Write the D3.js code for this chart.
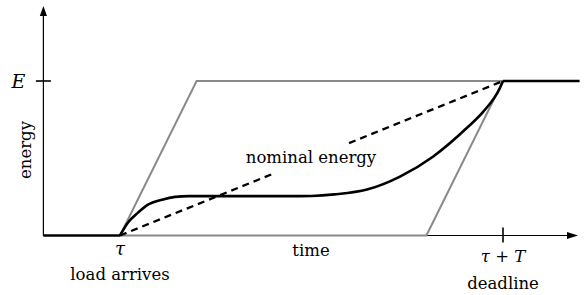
<!DOCTYPE html>
<html>
<head>
<meta charset="utf-8">
<script src="https://cdn.jsdelivr.net/npm/d3@7"></script>
<style>
  body { margin: 0; background: #fff; }
  text { font-family: "DejaVu Serif", serif; font-size: 16.5px; fill: #000; }
  .it { font-style: italic; }
</style>
</head>
<body>
<div id="chart"></div>
<script>
// time is measured from tau (0) to tau + T (1), energy from 0 to E (1)
const actualT = [0, 0.021, 0.047, 0.073, 0.110, 0.144, 0.18, 0.33, 0.47, 0.5, 0.56, 0.645, 0.731, 0.817, 0.906, 0.948, 0.992, 1];
const actualE = [0, 0.084, 0.148, 0.2, 0.232, 0.250, 0.255, 0.255, 0.255, 0.256, 0.266, 0.297, 0.381, 0.51, 0.697, 0.8, 0.955, 1];
const upperT = [0, 0.2, 1], upperE = [0, 1, 1];
const lowerT = [0, 0.8, 1], lowerE = [0, 0, 1];
const nominalT = [0, 1], nominalE = [0, 1];
const nominalGap = [0.397, 0.598];
const timeTicks = [0, 1];
const energyTicks = [1];

let width = 585, height = 295;
let svg = d3.select("#chart").append("svg")
  .attr("width", width)
  .attr("height", height)

let x = d3.scaleLinear().domain([-0.2, 1.2]).range([43.4, 579.6]);
let y = d3.scaleLinear().domain([0, 1]).range([235.5, 81]);
let y0 = y(0), xa = x(-0.2);

let line = d3.line().x(d => x(d[0])).y(d => y(d[1]));
let smooth = d3.line().x(d => x(d[0])).y(d => y(d[1])).curve(d3.curveMonotoneX);

// axes
svg.append("line").attr("x1", xa).attr("x2", 570).attr("y1", y0).attr("y2", y0)
  .attr("stroke", "#000").attr("stroke-width", 1.2);
svg.append("line").attr("x1", xa).attr("x2", xa).attr("y1", y0).attr("y2", 14)
  .attr("stroke", "#000").attr("stroke-width", 1.2);
svg.append("path").attr("d", `M578,${y0}L567,${y0 - 3.6}L567,${y0 + 3.6}Z`).attr("fill", "#000");
svg.append("path").attr("d", `M${xa},6L${xa - 3.6},16L${xa + 3.6},16Z`).attr("fill", "#000");

// ticks
energyTicks.forEach(e => {
  svg.append("line").attr("x1", xa - 7.5).attr("x2", xa + 7.5).attr("y1", y(e)).attr("y2", y(e))
    .attr("stroke", "#000").attr("stroke-width", 1.6);
});
svg.append("line").attr("x1", x(timeTicks[1])).attr("x2", x(timeTicks[1]))
  .attr("y1", y0 - 8).attr("y2", y0 + 7).attr("stroke", "#000").attr("stroke-width", 1.6);

// gray envelope
svg.append("path").datum(d3.zip(upperT, upperE)).attr("d", line)
  .attr("fill", "none").attr("stroke", "#8a8a8a").attr("stroke-width", 2);
svg.append("path").datum(d3.zip(lowerT, lowerE)).attr("d", line)
  .attr("fill", "none").attr("stroke", "#8a8a8a").attr("stroke-width", 2);

// nominal energy (dashed, broken around its label)
let nomAt = t => [t, nominalE[0] + (nominalE[1] - nominalE[0]) * (t - nominalT[0]) / (nominalT[1] - nominalT[0])];
[[nominalT[0], nominalGap[0]], [nominalGap[1], nominalT[1]]].forEach(seg => {
  svg.append("path").datum([nomAt(seg[0]), nomAt(seg[1])]).attr("d", line)
    .attr("fill", "none").attr("stroke", "#000").attr("stroke-width", 2.3)
    .attr("stroke-dasharray", "7,5");
});

// actual energy
svg.append("path").datum([[-0.2, 0], [0, 0]]).attr("d", line)
  .attr("fill", "none").attr("stroke", "#000").attr("stroke-width", 2.6);
svg.append("path").datum([[1, 1], [1.2, 1]]).attr("d", line)
  .attr("fill", "none").attr("stroke", "#000").attr("stroke-width", 2.6);
svg.append("path").datum(d3.zip(actualT, actualE)).attr("d", smooth)
  .attr("fill", "none").attr("stroke", "#000").attr("stroke-width", 2.6)
  .attr("stroke-linejoin", "round");

// labels
svg.append("text").attr("class", "it").attr("x", 18.5).attr("y", y(1) + 7)
  .attr("text-anchor", "middle").style("font-size", "19px").text("E");
svg.append("text").attr("transform", "translate(31,150) rotate(-90)")
  .attr("text-anchor", "middle").text("energy");
svg.append("text").attr("class", "it").attr("x", x(0)).attr("y", 255)
  .attr("text-anchor", "middle").style("font-size", "18px").text("τ");
svg.append("text").attr("x", x(0)).attr("y", 280).attr("text-anchor", "middle").text("load arrives");
svg.append("text").attr("x", 311).attr("y", 256).attr("text-anchor", "middle").text("time");
let tt = svg.append("text").attr("x", x(1)).attr("y", 262).attr("text-anchor", "middle");
tt.append("tspan").attr("class", "it").text("τ");
tt.append("tspan").text(" + ");
tt.append("tspan").attr("class", "it").text("T");
svg.append("text").attr("x", x(1)).attr("y", 289).attr("text-anchor", "middle").text("deadline");
svg.append("text").attr("x", 311).attr("y", 163).attr("text-anchor", "middle").text("nominal energy");
</script>
</body>
</html>
